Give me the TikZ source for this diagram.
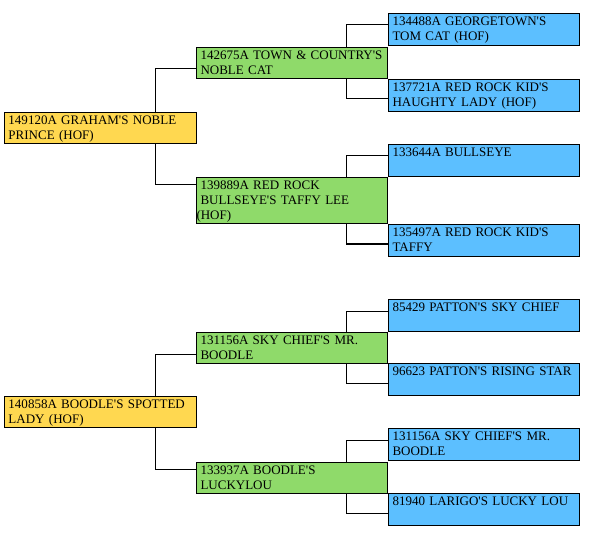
\documentclass[tikz,border=0pt]{standalone}
\usepackage{fontspec}
\setmainfont{Liberation Serif}[Ligatures=TeXOff]
\usepackage{xcolor}
\usepackage{tikz}

\definecolor{subjcol}{RGB}{255,216,80}
\definecolor{parentcol}{RGB}{143,218,106}
\definecolor{grandcol}{RGB}{92,191,255}

\begin{document}
\begin{tikzpicture}[
    x=0.75pt, y=-0.75pt,
    dogbox/.style={draw, line width=0.75pt, anchor=north west, inner xsep=3pt, inner ysep=0pt, text width=137.25pt, align=left, font=\fontsize{9.75}{11.25}\selectfont, text height=9pt},
    subj/.style={dogbox, fill=subjcol, text width=138pt, text depth=14.25pt},
    parent/.style={dogbox, fill=parentcol, text depth=14.25pt},
    tallparent/.style={dogbox, fill=parentcol, text depth=25.5pt},
    grand/.style={dogbox, fill=grandcol, text depth=15pt},
    link/.style={line width=0.75pt},
]
\useasboundingbox (0,0) rectangle (591,534);

% Dogs
\node[subj] (a1) at (4,112) {149120A GRAHAM'S NOBLE\\PRINCE (HOF)};
\node[subj] (a2) at (4,396) {140858A BOODLE'S SPOTTED\\LADY (HOF)};

% Sires and dams
\node[parent] (b1) at (196,47) {142675A TOWN \& COUNTRY'S\\NOBLE CAT};
\node[tallparent] (b2) at (196,177) {139889A RED ROCK\\BULLSEYE'S TAFFY LEE\\\hspace*{-3pt}(HOF)};
\node[parent] (b3) at (196,332) {131156A SKY CHIEF'S MR.\\BOODLE};
\node[parent] (b4) at (196,462) {133937A BOODLE'S\\LUCKYLOU};

% Grandparents
\node[grand] (c1) at (388,13) {134488A GEORGETOWN'S\\TOM CAT (HOF)};
\node[grand] (c2) at (388,79) {137721A RED ROCK KID'S\\HAUGHTY LADY (HOF)};
\node[grand] (c3) at (388,144) {133644A BULLSEYE};
\node[grand] (c4) at (388,224) {135497A RED ROCK KID'S\\TAFFY};
\node[grand] (c5) at (388,299) {85429 PATTON'S SKY CHIEF};
\node[grand] (c6) at (388,363) {96623 PATTON'S RISING STAR};
\node[grand] (c7) at (388,428) {131156A SKY CHIEF'S MR.\\BOODLE};
\node[grand] (c8) at (388,493) {81940 LARIGO'S LUCKY LOU};

% Connecting lines
\foreach \p/\up/\dn in {a1/b1/b2, a2/b3/b4} {
    \draw[link] ([xshift=-31.5pt]\p.north east) |- ([yshift=-16.5pt]\up.north west);
    \draw[link] ([xshift=-31.5pt]\p.south east) |- ([yshift=-5.5pt]\dn.north west);
}
\foreach \p/\up/\dn in {b1/c1/c2, b2/c3/c4, b3/c5/c6, b4/c7/c8} {
    \draw[link] ([xshift=-31.5pt]\p.north east) |- ([yshift=-9pt]\up.north west);
    \draw[link] ([xshift=-31.5pt]\p.south east) |- ([yshift=-15pt]\dn.north west);
}

\end{tikzpicture}
\end{document}
